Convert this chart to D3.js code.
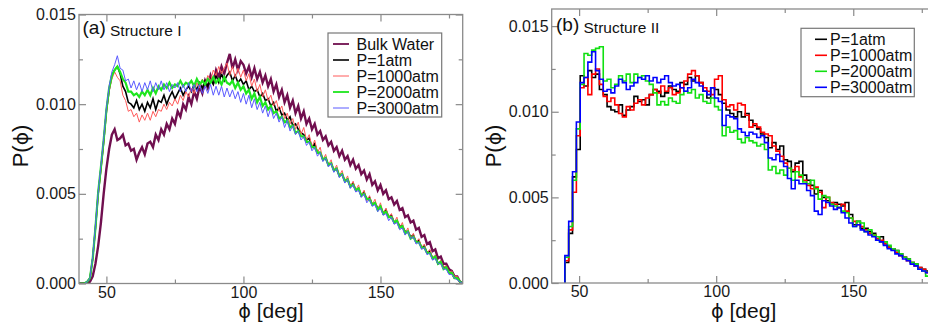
<!DOCTYPE html>
<html>
<head>
<meta charset="utf-8">
<script src="https://cdn.jsdelivr.net/npm/d3@7"></script>
<style>
  body { margin: 0; background: #fff; }
  svg { display: block; }
</style>
</head>
<body>
<div id="chart"></div>
<script>
// ---- data (P values are in units of 1e-4) ----
// (a) Structure I, 1-degree grid from 40 to 180
const phiA = d3.range(40, 181);
const bulkA = [
  0,0,0,0,1,4,11,21,34,50,
  64,75,83,86,80,81,83,77,78,74,
  75,69,73,76,72,78,79,76,83,80,
  86,83,89,86,92,89,96,93,100,97,
  104,100,107,103,110,106,113,109,116,112,
  119,115,121,117,123,128,120,125,119,124,
  122,117,121,115,120,114,118,112,116,110,
  114,107,111,104,108,101,105,98,102,95,
  99,92,96,89,92,86,89,83,85,80,
  82,77,79,74,76,71,74,69,71,66,
  69,64,66,61,63,58,61,55,57,52,
  55,50,52,47,48,44,46,41,42,37,
  38,34,35,30,31,26,27,22,23,18,
  19,14,15,11,11,8,7,4,4,1,0
];
const p1A = [
  0,0,0,1,3,14,31,50,64,79,
  96,108,116,119,121,117,110,107,101,100,
  98,102,97,100,96,101,98,103,97,102,
  101,105,100,104,107,103,106,109,105,108,
  110,107,111,108,112,109,113,110,114,111,
  116,112,117,113,116,118,113,116,112,114,
  111,113,108,110,107,108,104,106,102,103,
  99,101,96,98,94,95,91,93,88,89,
  86,84,83,80,81,76,78,73,73,69,
  70,66,67,63,64,60,61,57,58,54,
  56,52,53,49,51,47,48,44,45,42,
  43,39,41,37,38,34,35,32,32,29,
  29,26,27,23,24,20,21,17,18,14,
  15,11,12,9,9,6,6,3,3,1,0
];
const p1000A = [
  0,0,0,1,3,13,30,49,63,78,
  95,107,114,118,115,113,105,102,96,97,
  93,95,90,94,91,95,91,96,93,97,
  96,100,97,101,99,103,100,105,102,107,
  104,109,106,112,109,114,111,116,113,119,
  116,121,117,120,123,116,121,115,120,115,
  119,113,117,110,114,107,111,104,108,102,
  105,99,102,96,99,92,95,89,92,86,
  90,83,87,80,83,76,80,73,76,69,
  72,66,69,63,66,60,63,57,60,54,
  57,52,55,49,52,46,49,44,47,41,
  45,39,42,37,39,34,37,31,34,28,
  31,25,28,23,25,20,22,17,19,14,
  16,11,13,9,10,6,7,4,4,1,0
];
const p2000A = [
  0,0,0,1,3,14,31,51,65,80,
  97,109,116,119,121,118,114,112,107,107,
  105,106,104,107,105,108,105,109,106,110,
  108,111,109,112,109,111,110,113,110,112,
  111,113,110,114,111,113,111,114,112,115,
  112,114,111,115,112,111,113,109,112,108,
  110,106,108,103,106,101,104,99,101,97,
  99,95,96,92,93,90,91,87,88,84,
  85,82,82,79,79,76,76,73,73,69,
  70,66,67,63,64,60,61,57,58,54,
  55,52,53,49,50,47,47,44,45,41,
  43,39,40,37,37,34,35,31,32,28,
  29,25,26,23,23,20,20,17,17,14,
  15,11,12,8,9,6,6,3,3,1,0
];
const p3000A = [
  0,0,0,1,3,15,32,51,66,81,
  98,110,118,122,127,120,119,113,114,109,
  113,108,112,107,112,108,113,107,112,108,
  113,108,112,107,111,109,112,107,111,107,
  112,107,111,107,111,106,110,106,111,105,
  110,105,110,104,109,104,108,103,107,101,
  106,100,105,98,103,97,101,95,99,93,
  98,92,95,90,93,87,91,85,88,83,
  85,80,82,77,79,74,76,71,73,68,
  70,65,67,62,64,59,61,56,58,53,
  55,51,52,48,50,45,47,43,44,40,
  42,38,39,35,37,33,34,30,31,27,
  29,25,26,22,23,19,20,16,17,13,
  14,11,11,8,8,5,5,3,2,1,0
];

// (b) Structure II, histogram bins of 1.4 degrees starting at 44.8
const binStartB = 44.8, binWidthB = 1.4;
const p1B = [
  12,29,62,78,121,115,124,120,122,113,
  110,103,101,100,104,98,101,103,109,106,
  107,104,110,113,112,109,111,115,113,112,
  117,116,120,118,121,117,112,108,114,113,
  110,105,101,99,97,100,97,99,95,92,
  90,87,85,79,82,78,80,72,71,65,
  70,71,63,60,57,52,54,50,48,46,
  47,46,45,47,40,34,36,32,32,30,
  29,25,27,23,21,20,19,17,15,14,
  12,11,9,8,7,5,4
];
const p1000B = [
  13,31,53,86,114,120,110,122,125,116,
  109,106,108,104,99,97,103,101,105,107,
  104,108,110,113,111,115,112,114,110,111,
  114,118,122,124,121,117,114,112,110,119,
  121,107,103,104,101,105,104,98,91,93,
  91,88,87,86,80,77,74,70,67,66,
  68,62,60,57,55,56,53,44,50,47,
  46,44,46,42,38,36,34,33,31,29,
  28,26,25,23,21,20,18,16,15,13,
  12,10,9,8,6,5,4
];
const p2000B = [
  15,33,60,90,116,134,133,136,137,138,
  118,119,114,116,121,118,122,117,122,120,
  121,118,116,111,104,106,104,108,106,105,
  110,112,111,113,108,110,106,105,108,103,
  101,86,91,88,89,84,82,85,83,82,
  80,81,78,66,68,64,66,63,67,60,
  65,63,59,58,60,55,49,51,50,46,
  45,44,42,41,38,33,36,35,30,31,
  28,27,24,24,22,20,19,17,15,14,
  12,11,8,7,4,4,3
];
const p3000B = [
  16,36,65,94,117,120,129,135,124,119,
  112,113,111,115,119,117,113,115,117,120,
  119,121,118,120,117,119,121,117,115,116,
  114,112,114,119,117,115,112,110,114,108,
  106,92,98,97,96,90,88,86,88,87,
  85,86,82,73,72,75,71,68,61,55,
  60,58,58,54,51,42,40,48,47,45,
  43,44,41,38,35,33,34,31,30,28,
  27,25,24,22,20,19,17,16,14,13,
  11,10,8,7,6,4,4
];

const xMajor = [50, 100, 150];
const xMinor = [75, 125, 175];
const yMajor = [0, 0.005, 0.010, 0.015];
const yMinor = [0.0025, 0.0075, 0.0125];

const seriesA = [
  { name: "Bulk Water", values: bulkA, color: "#700f4f", width: 2.4 },
  { name: "P=1atm", values: p1A, color: "#000000", width: 1.6 },
  { name: "P=1000atm", values: p1000A, color: "#ff5a5a", width: 1.0 },
  { name: "P=2000atm", values: p2000A, color: "#1ee61e", width: 2.2 },
  { name: "P=3000atm", values: p3000A, color: "#5a5aff", width: 1.0 }
];
const seriesB = [
  { name: "P=1atm", values: p1B, color: "#000000", width: 1.6 },
  { name: "P=1000atm", values: p1000B, color: "#ff0000", width: 1.6 },
  { name: "P=2000atm", values: p2000B, color: "#11e011", width: 1.6 },
  { name: "P=3000atm", values: p3000B, color: "#0000ff", width: 1.6 }
];

const FONT = "'Liberation Sans', Arial, Helvetica, sans-serif";
const PHI_FONT = "'DejaVu Sans', sans-serif";
const frameColor = "#8a8a8a";
const width = 928, height = 327;

const svg = d3.select("#chart").append("svg")
  .attr("width", width)
  .attr("height", height)
  .attr("viewBox", `0 0 ${width} ${height}`);

function styleAxis(g) {
  g.select(".domain").remove();
  g.selectAll("line").attr("stroke", frameColor).attr("stroke-width", 1.2);
  g.selectAll("text").attr("fill", "#1a1a1a").attr("font-size", 16).attr("font-family", FONT);
}

// text with a straight-stroke phi glyph
function phiText(sel, before, after, size) {
  sel.attr("font-family", FONT).attr("font-size", size).attr("fill", "#111");
  if (before) sel.append("tspan").text(before);
  sel.append("tspan").attr("font-family", PHI_FONT).attr("font-size", size * 0.92).text("ϕ");
  sel.append("tspan").text(after);
}

function drawPanel(p) {
  const x = d3.scaleLinear().domain([40, 180]).range([p.left, p.right]);
  const y = d3.scaleLinear().domain([0, p.ymax]).range([p.bottom, p.top]);
  const root = svg.append("g");

  root.append("clipPath").attr("id", "clip-" + p.id)
    .append("rect")
    .attr("x", p.left).attr("y", p.top)
    .attr("width", p.right - p.left).attr("height", p.bottom - p.top);

  // curves
  const plot = root.append("g").attr("clip-path", `url(#clip-${p.id})`);
  p.series.forEach((s) => {
    const pts = p.points(s.values);
    const line = d3.line()
      .x((d) => x(d[0]))
      .y((d) => y(d[1] * 1e-4))
      .curve(p.step ? d3.curveStepAfter : d3.curveLinear);
    plot.append("path")
      .attr("d", line(pts))
      .attr("fill", "none")
      .attr("stroke", s.color)
      .attr("stroke-width", s.width)
      .attr("stroke-linejoin", "miter");
  });

  // frame
  root.append("rect")
    .attr("x", p.left).attr("y", p.top)
    .attr("width", p.right - p.left).attr("height", p.bottom - p.top)
    .attr("fill", "none").attr("stroke", frameColor).attr("stroke-width", 1.3);

  // ticks, all pointing inwards
  root.append("g").attr("transform", `translate(0,${p.bottom})`)
    .call(d3.axisBottom(x).tickValues(xMajor).tickSize(-7).tickPadding(3)).call(styleAxis);
  root.append("g").attr("transform", `translate(0,${p.bottom})`)
    .call(d3.axisBottom(x).tickValues(xMinor).tickSize(-4).tickFormat("")).call(styleAxis);
  root.append("g").attr("transform", `translate(0,${p.top})`)
    .call(d3.axisTop(x).tickValues(xMajor).tickSize(-7).tickFormat("")).call(styleAxis);
  root.append("g").attr("transform", `translate(0,${p.top})`)
    .call(d3.axisTop(x).tickValues(xMinor).tickSize(-4).tickFormat("")).call(styleAxis);
  root.append("g").attr("transform", `translate(${p.left},0)`)
    .call(d3.axisLeft(y).tickValues(yMajor).tickSize(-7).tickPadding(3).tickFormat(d3.format(".3f"))).call(styleAxis);
  root.append("g").attr("transform", `translate(${p.left},0)`)
    .call(d3.axisLeft(y).tickValues(yMinor).tickSize(-4).tickFormat("")).call(styleAxis);
  root.append("g").attr("transform", `translate(${p.right},0)`)
    .call(d3.axisRight(y).tickValues(yMajor).tickSize(-7).tickFormat("")).call(styleAxis);
  root.append("g").attr("transform", `translate(${p.right},0)`)
    .call(d3.axisRight(y).tickValues(yMinor).tickSize(-4).tickFormat("")).call(styleAxis);

  // axis titles
  root.append("text")
    .attr("x", (p.left + p.right) / 2).attr("y", 318)
    .attr("text-anchor", "middle")
    .call(phiText, "", " [deg]", 21);
  root.append("text")
    .attr("transform", `translate(${p.left - 51},146) rotate(-90)`)
    .attr("text-anchor", "middle")
    .call(phiText, "P(", ")", 22);

  // panel label
  root.append("text")
    .attr("x", p.labelX).attr("y", p.labelY)
    .attr("font-family", FONT).attr("font-size", 19).attr("fill", "#111")
    .text(p.label);
  root.append("text")
    .attr("x", p.labelX + 27.5).attr("y", p.labelY + 1.5)
    .attr("font-family", FONT).attr("font-size", 15.5).attr("fill", "#111")
    .text(p.title);

  // legend
  const lg = p.legend;
  root.append("rect")
    .attr("x", lg.x).attr("y", lg.y).attr("width", lg.w).attr("height", lg.h)
    .attr("fill", "#fff").attr("stroke", "#777").attr("stroke-width", 1.2);
  p.series.forEach((s, i) => {
    const cy = lg.y + lg.first + i * 16;
    root.append("line")
      .attr("x1", lg.x + lg.lx1).attr("x2", lg.x + lg.lx2)
      .attr("y1", cy).attr("y2", cy)
      .attr("stroke", s.color).attr("stroke-width", Math.min(s.width, 1.8));
    root.append("text")
      .attr("x", lg.x + lg.tx).attr("y", cy + 5.7)
      .attr("font-family", FONT).attr("font-size", 16).attr("fill", "#111")
      .text(s.name);
  });
}

drawPanel({
  id: "a", left: 79, right: 462.7, top: 14.5, bottom: 283.5, ymax: 0.015,
  series: seriesA, step: false,
  points: (vals) => vals.map((v, i) => [phiA[i], v]),
  label: "(a)", title: "Structure I", labelX: 82.5, labelY: 34,
  legend: { x: 328, y: 33, w: 113.7, h: 84, first: 11, lx1: 5, lx2: 21, tx: 28.5 }
});

drawPanel({
  id: "b", left: 551.7, right: 935.5, top: 9, bottom: 283, ymax: 0.016,
  series: seriesB, step: true,
  points: (vals) => {
    const pts = [[binStartB, 0]];
    vals.forEach((v, i) => pts.push([binStartB + i * binWidthB, v]));
    pts.push([binStartB + vals.length * binWidthB, vals[vals.length - 1]]);
    return pts;
  },
  label: "(b)", title: "Structure II", labelX: 556, labelY: 31,
  legend: { x: 801, y: 28.3, w: 113.3, h: 68.4, first: 11, lx1: 14, lx2: 26, tx: 29 }
});
</script>
</body>
</html>
